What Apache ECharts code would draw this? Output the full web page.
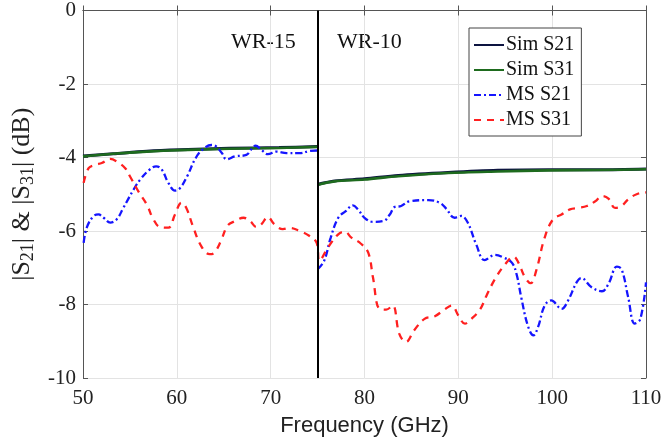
<!DOCTYPE html>
<html>
<head>
<meta charset="utf-8">
<script src="https://cdn.jsdelivr.net/npm/echarts@6/dist/echarts.min.js"></script>
<style>
  html, body { margin: 0; padding: 0; background: #fff; }
  #main { width: 665px; height: 444px; }
</style>
</head>
<body>
<div id="main"></div>
<script>
// simulated curves (left band WR-15, right band WR-10)
var simFreq = [50, 53.2, 56.8, 60.3, 65.6, 70.9, 74.95, 75.01, 75.05, 76.8, 80, 83.6, 88.9, 94.2, 99.6, 105, 110]
var simS31 = [-3.97, -3.9, -3.84, -3.8, -3.76, -3.74, -3.71, null, -4.74, -4.65, -4.6, -4.51, -4.42, -4.38, -4.35, -4.34, -4.32]
var simS21 = [-3.96, -3.9, -3.83, -3.79, -3.75, -3.73, -3.7, null, -4.73, -4.64, -4.58, -4.49, -4.41, -4.35, -4.33, -4.33, -4.31]

// measured S21
var msS21Freq = [50.07, 50.4, 51.1, 51.65, 52.2, 52.9, 53.6, 54.3, 55.4, 56.1, 57.1, 57.8, 58.4, 59.1, 59.8, 60.35, 61.1, 62, 62.8, 63.7, 64.2, 64.8, 65.3, 66.2, 67.4, 67.9, 68.4, 69, 69.7, 70.6, 71.7, 73.1, 74.2, 75, 75.01,
  75.02, 75.7, 76.4, 77.2, 78, 78.75, 79.3, 80, 80.9, 82, 82.7, 83.2, 83.9, 84.8, 86.8, 88, 88.7, 89.6, 90.3, 91, 91.9, 92.8, 93.9, 94.8, 95.7, 96.2, 96.7, 97.4, 98, 98.5, 99.2, 99.9, 101, 101.7, 102.6, 103.1, 104.2, 105.3, 106, 106.9, 107.4, 108.1, 108.8, 109.4, 110]
var msS21 = [-6.32, -5.91, -5.6, -5.55, -5.64, -5.77, -5.68, -5.37, -4.87, -4.6, -4.33, -4.24, -4.33, -4.69, -4.9, -4.83, -4.51, -4.02, -3.77, -3.66, -3.7, -3.88, -4.05, -3.97, -3.93, -3.79, -3.68, -3.79, -3.91, -3.84, -3.88, -3.88, -3.82, -3.81, null,
  -7.04, -6.81, -6.18, -5.64, -5.46, -5.3, -5.41, -5.64, -5.75, -5.73, -5.55, -5.35, -5.32, -5.19, -5.16, -5.23, -5.39, -5.64, -5.59, -5.77, -6.36, -6.79, -6.65, -6.72, -6.86, -7.17, -7.8, -8.57, -8.84, -8.61, -8.03, -7.89, -8.12, -7.89, -7.4, -7.28, -7.53, -7.64, -7.44, -6.97, -7.04, -7.8, -8.52, -8.39, -7.4]

// measured S31
var msS31Freq = [50.07, 50.6, 51.3, 52, 52.9, 53.6, 54.5, 55, 55.9, 56.8, 57.5, 58.2, 59.1, 59.8, 60.5, 61, 61.7, 62.6, 63.5, 64, 64.7, 65.4, 66.2, 67.1, 67.8, 68.5, 69, 69.7, 70.4, 71.3, 72, 73.1, 74.1, 74.9,
  75.2, 76.1, 77.2, 77.9, 78.6, 79.6, 80.4, 80.9, 81.6, 82.3, 83, 83.7, 84.4, 85.3, 86.4, 87.5, 88.4, 89.3, 90, 90.7, 91.4, 92.3, 93, 93.9, 95, 95.9, 96.4, 97.1, 97.7, 98.3, 99.2, 100.1, 101, 101.9, 102.8, 103.7, 104.6, 105.3, 106, 106.7, 107.4, 108.1, 109, 110]
var msS31 = [-4.69, -4.29, -4.2, -4.15, -4.04, -4.11, -4.29, -4.51, -4.92, -5.28, -5.68, -5.89, -5.91, -5.55, -5.23, -5.37, -5.86, -6.41, -6.63, -6.59, -6.27, -5.86, -5.73, -5.64, -5.73, -5.89, -5.82, -5.62, -5.82, -5.95, -5.92, -6.0, -6.13, -6.32,
  -6.81, -6.45, -6.09, -6.02, -6.18, -6.34, -6.59, -7.26, -8.12, -8.14, -8.03, -8.79, -9.02, -8.7, -8.39, -8.32, -8.16, -8.03, -8.3, -8.52, -8.39, -8.14, -7.76, -7.31, -6.9, -6.7, -6.86, -7.26, -7.42, -7.08, -6.18, -5.68, -5.55, -5.41, -5.37, -5.32, -5.19, -5.05, -5.12, -5.37, -5.32, -5.14, -5.0, -4.95]

var bandEdge = 75
var bandLabels = ['WR-15', 'WR-10']

function pairs (xs, ys) {
  return xs.map(function (x, i) { return [x, ys[i]] })
}

var serif = 'Liberation Serif'
var myChart = echarts.init(document.getElementById('main'))

var option = {
  animation: false,
  grid: { left: 83, right: 19, top: 8, bottom: 66 },
  legend: {
    orient: 'vertical',
    left: 469,
    top: 28,
    padding: [7, 7, 6, 4],
    itemGap: 5,
    itemWidth: 30,
    itemHeight: 14,
    borderColor: '#444',
    borderWidth: 1,
    borderRadius: 0,
    backgroundColor: '#fff',
    itemStyle: { opacity: 0 },
    textStyle: { fontFamily: serif, fontSize: 20, color: '#111', padding: [0, 0, 0, -3] },
    data: ['Sim S21', 'Sim S31', 'MS S21', 'MS S31']
  },
  xAxis: [{
    type: 'value',
    min: 50,
    max: 110,
    interval: 10,
    name: 'Frequency (GHz)',
    nameLocation: 'middle',
    nameGap: 37,
    nameTextStyle: { fontFamily: 'Liberation Sans', fontSize: 22, color: '#222' },
    axisLine: { lineStyle: { color: '#555', width: 1 } },
    axisTick: { inside: true, length: 5, lineStyle: { color: '#555' } },
    axisLabel: { fontFamily: serif, fontSize: 21, color: '#222', margin: 10 },
    splitLine: { show: true, lineStyle: { color: '#e3e3e3' } }
  }, {
    type: 'value',
    position: 'top',
    min: 50,
    max: 110,
    interval: 10,
    axisLine: { show: true, lineStyle: { color: '#555', width: 1 } },
    axisTick: { show: true, inside: true, length: 5, lineStyle: { color: '#555' } },
    axisLabel: { show: false },
    splitLine: { show: false }
  }],
  yAxis: [{
    type: 'value',
    min: -10,
    max: 0,
    interval: 2,
    name: '{n|' + '|S}{s|21}{n|| & |S}{s|31}{n|| (dB)}',
    nameLocation: 'middle',
    nameGap: 46,
    nameTextStyle: {
      rich: {
        n: { fontFamily: serif, fontSize: 26, color: '#222' },
        s: { fontFamily: serif, fontSize: 18, color: '#222', verticalAlign: 'bottom', padding: [11, 0, 0, 0] }
      }
    },
    axisLine: { show: true, lineStyle: { color: '#555', width: 1 } },
    axisTick: { show: true, inside: true, length: 5, lineStyle: { color: '#555' } },
    axisLabel: { fontFamily: serif, fontSize: 21, color: '#222', margin: 7 },
    splitLine: { show: true, lineStyle: { color: '#e3e3e3' } }
  }, {
    type: 'value',
    position: 'right',
    min: -10,
    max: 0,
    interval: 2,
    axisLine: { show: true, lineStyle: { color: '#555', width: 1 } },
    axisTick: { show: true, inside: true, length: 5, lineStyle: { color: '#555' } },
    axisLabel: { show: false },
    splitLine: { show: false }
  }],
  series: [{
    name: 'Sim S21',
    type: 'line',
    symbol: 'none',
    smooth: 0.3,
    data: pairs(simFreq, simS21),
    lineStyle: { color: '#0d1440', width: 3 },
    itemStyle: { color: '#0d1440' },
    z: 3
  }, {
    name: 'Sim S31',
    type: 'line',
    symbol: 'none',
    smooth: 0.3,
    data: pairs(simFreq, simS31),
    lineStyle: { color: '#1e6b1e', width: 2.6 },
    itemStyle: { color: '#1e6b1e' },
    z: 4
  }, {
    name: 'MS S21',
    type: 'line',
    symbol: 'none',
    smooth: 0.4,
    data: pairs(msS21Freq, msS21),
    lineStyle: { color: '#1515ff', width: 2.3, type: [7, 3, 2, 3] },
    itemStyle: { color: '#1515ff' },
    z: 5
  }, {
    name: 'MS S31',
    type: 'line',
    symbol: 'none',
    smooth: 0.4,
    data: pairs(msS31Freq, msS31),
    lineStyle: { color: '#ff2020', width: 2.3, type: [7, 6] },
    itemStyle: { color: '#ff2020' },
    z: 5,
    markLine: {
      silent: true,
      symbol: 'none',
      label: { show: false },
      lineStyle: { color: '#000', width: 2, type: 'solid' },
      data: [{ xAxis: bandEdge }],
      z: 10
    }
  }],
  graphic: [{
    type: 'text',
    x: 231,
    y: 42,
    style: { text: bandLabels[0], font: '22px "Liberation Serif"', fill: '#111', textAlign: 'left', textVerticalAlign: 'middle' }
  }, {
    type: 'text',
    x: 337,
    y: 42,
    style: { text: bandLabels[1], font: '22px "Liberation Serif"', fill: '#111', textAlign: 'left', textVerticalAlign: 'middle' }
  }]
}

myChart.setOption(option)
</script>
</body>
</html>
